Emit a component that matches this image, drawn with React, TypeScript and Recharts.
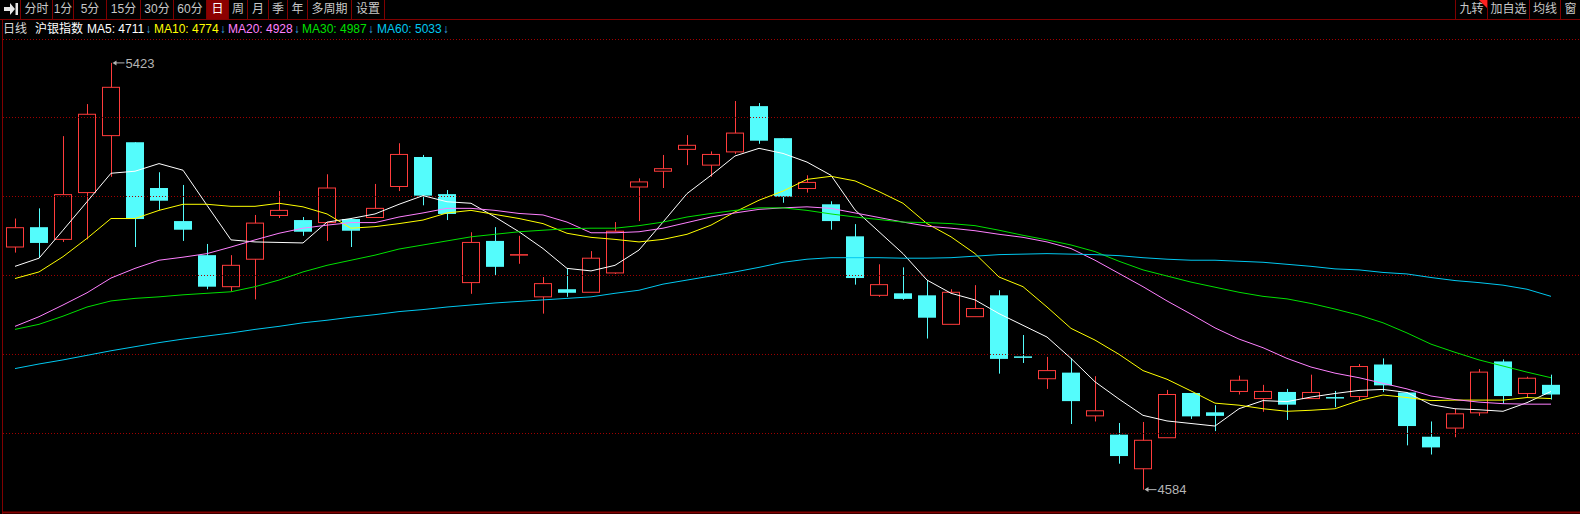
import { ComposedChart, Bar, Line, XAxis, YAxis, ReferenceLine, ReferenceDot } from "recharts";

// 沪银指数 daily candles, oldest first
const opens = [
  5061, 5100, 5076, 5168, 5280, 5267, 5177, 5112, 5045, 4983,
  5037, 5123, 5114, 5109, 5116, 5119, 5180, 5238, 5165, 4991,
  5073, 5045, 4963, 4978, 4972, 5010, 5179, 5210, 5253, 5222,
  5248, 5338, 5275, 5176, 5145, 5082, 4966, 4970, 4966, 4909,
  4924, 4966, 4846, 4802, 4814, 4729, 4692, 4625, 4686, 4774,
  4736, 4777, 4763, 4776, 4763, 4766, 4767, 4830, 4775, 4688,
  4705, 4735, 4836, 4773, 4790,
];
const highs = [
  5117, 5137, 5279, 5342, 5423, 5267, 5208, 5183, 5067, 5045,
  5124, 5171, 5120, 5204, 5117, 5185, 5265, 5242, 5173, 5090,
  5100, 5083, 5002, 5019, 5053, 5110, 5196, 5242, 5281, 5249,
  5348, 5344, 5275, 5202, 5151, 5106, 5027, 5021, 4996, 4978,
  4986, 4976, 4888, 4845, 4842, 4807, 4715, 4717, 4780, 4774,
  4750, 4808, 4790, 4782, 4810, 4778, 4831, 4842, 4775, 4718,
  4743, 4821, 4840, 4806, 4810,
];
const lows = [
  5050, 5039, 5071, 5076, 5199, 5061, 5134, 5073, 4978, 4974,
  4958, 5118, 5083, 5073, 5061, 5119, 5171, 5143, 5114, 4969,
  5006, 5028, 4930, 4963, 4972, 5008, 5112, 5177, 5222, 5199,
  5244, 5264, 5148, 5168, 5095, 4987, 4963, 4957, 4881, 4909,
  4924, 4812, 4833, 4782, 4713, 4718, 4635, 4584, 4686, 4723,
  4699, 4771, 4737, 4721, 4763, 4746, 4759, 4776, 4671, 4653,
  4687, 4729, 4753, 4765, 4761,
];
const closes = [
  5099, 5069, 5164, 5322, 5375, 5116, 5152, 5095, 4983, 5025,
  5108, 5133, 5091, 5177, 5093, 5137, 5243, 5162, 5126, 5070,
  5022, 5046, 4989, 4971, 5039, 5092, 5189, 5215, 5261, 5243,
  5285, 5270, 5160, 5188, 5112, 5000, 4987, 4959, 4922, 4972,
  4940, 4841, 4843, 4818, 4758, 4739, 4650, 4681, 4771, 4728,
  4729, 4799, 4777, 4751, 4775, 4765, 4826, 4789, 4709, 4667,
  4733, 4815, 4768, 4803, 4771,
];

// moving averages as drawn in the picture
const ma5 = [
  5023, 5039, 5094, 5150, 5206, 5210, 5225, 5212, 5143, 5075,
  5071, 5070, 5069, 5110, 5117, 5126, 5145, 5162, 5150, 5147,
  5120, 5091, 5058, 5019, 5014, 5025, 5055, 5110, 5166, 5202,
  5240, 5255, 5245, 5228, 5202, 5134, 5091, 5048, 4996, 4970,
  4957, 4930, 4907, 4884, 4842, 4796, 4762, 4730, 4719, 4714,
  4709, 4743, 4759, 4757, 4766, 4773, 4779, 4781, 4775, 4751,
  4743, 4741, 4738, 4755, 4777,
];
const ma10 = [
  4999, 5012, 5042, 5078, 5117, 5117, 5133, 5145, 5145, 5141,
  5141, 5147, 5140, 5126, 5098, 5101, 5107, 5114, 5128, 5133,
  5125, 5117, 5107, 5088, 5080, 5076, 5071, 5076, 5086, 5104,
  5130, 5153, 5171, 5194, 5200, 5191, 5170, 5147, 5107, 5081,
  5048, 5002, 4983, 4943, 4901, 4878, 4850, 4818, 4801, 4778,
  4754, 4750, 4743, 4738, 4740, 4743, 4759, 4770, 4765, 4759,
  4760, 4760, 4760, 4765, 4763,
];
const ma20 = [
  4905, 4924, 4947, 4971, 5000, 5019, 5035, 5041, 5048, 5061,
  5075, 5088, 5098, 5104, 5109, 5109, 5120, 5128, 5137, 5137,
  5133, 5127, 5124, 5110, 5089, 5089, 5091, 5098, 5109, 5120,
  5128, 5135, 5138, 5140, 5137, 5128, 5119, 5110, 5102, 5098,
  5093, 5086, 5080, 5071, 5058, 5035, 5009, 4983, 4955, 4929,
  4902, 4880, 4863, 4842, 4825, 4813, 4804, 4793, 4782, 4768,
  4761, 4756, 4753, 4752, 4752,
];
const ma30 = [
  4899, 4909, 4925, 4943, 4955, 4960, 4963, 4967, 4970, 4973,
  4983, 4996, 5012, 5025, 5035, 5045, 5057, 5065, 5073, 5081,
  5086, 5091, 5094, 5097, 5098, 5098, 5103, 5110, 5120, 5127,
  5133, 5138, 5138, 5133, 5126, 5120, 5115, 5110, 5109, 5107,
  5103, 5094, 5084, 5075, 5065, 5052, 5033, 5016, 5004, 4992,
  4982, 4972, 4964, 4959, 4950, 4939, 4927, 4912, 4892, 4870,
  4854, 4839, 4827, 4815, 4804,
];
const ma60 = [
  4822, 4831, 4839, 4848, 4857, 4865, 4873, 4880, 4886, 4892,
  4899, 4905, 4912, 4917, 4923, 4928, 4934, 4938, 4943, 4947,
  4951, 4954, 4957, 4960, 4963, 4970, 4976, 4988, 4996, 5004,
  5012, 5021, 5031, 5037, 5040, 5040, 5040, 5039, 5039, 5040,
  5043, 5046, 5047, 5048, 5047, 5046, 5044, 5040, 5037, 5035,
  5035, 5033, 5031, 5027, 5023, 5018, 5016, 5011, 5008, 5001,
  4995, 4991, 4986, 4978, 4964,
];

const gridPrices = [5469, 5315.6, 5160.3, 5005, 4849.7, 4694.3];
const priceDomain: [number, number] = [4539, 5469];

const periodTabs = ["分时", "1分", "5分", "15分", "30分", "60分", "日", "周", "月", "季", "年", "多周期", "设置"];
const activeTab = "日";
const toolTabs = ["九转", "加自选", "均线", "窗"];
const cycleLabel = "日线";
const instrument = "沪银指数";
const maLegend = [
  { name: "MA5", value: 4711, key: "ma5", color: "#ffffff" },
  { name: "MA10", value: 4774, key: "ma10", color: "#ffff00" },
  { name: "MA20", value: 4928, key: "ma20", color: "#ff80ff" },
  { name: "MA30", value: 4987, key: "ma30", color: "#00e000" },
  { name: "MA60", value: 5033, key: "ma60", color: "#00c8f0" },
];

// layout of the toolbar buttons (px)
const periodTabWidths = [32, 21, 33, 34, 33, 33, 22, 19, 21, 19, 20, 44, 33];
const toolTabLefts = [1455, 1487, 1529, 1560];
const toolTabWidths = [32, 42, 31, 20];
const legendLefts = [87, 154, 228, 302, 377];

const UP = "#ff3c3c";
const DOWN = "#54fcfc";
const FRAME = "#800000";
const FONT = "'Liberation Sans', 'Noto Sans CJK SC', sans-serif";

const data = opens.map((open, i) => ({
  i,
  open,
  high: highs[i],
  low: lows[i],
  close: closes[i],
  ma5: ma5[i],
  ma10: ma10[i],
  ma20: ma20[i],
  ma30: ma30[i],
  ma60: ma60[i],
}));

const maxHigh = Math.max(...highs);
const minLow = Math.min(...lows);

function Candle(props: any) {
  const { x, y, width, height, payload } = props;
  if (!payload) return null;
  const top = Math.min(y, y + height);
  const bottom = Math.max(y, y + height);
  const { open, close, high, low } = payload;
  const k = (bottom - top) / (high - low || 1);
  const yOf = (v: number) => top + (high - v) * k;
  const cx = Math.floor(x + width / 2) + 0.5;
  const bodyTop = yOf(Math.max(open, close));
  const bodyBot = yOf(Math.min(open, close));
  if (close >= open) {
    return (
      <g>
        <line x1={cx} x2={cx} y1={top} y2={bodyTop} stroke={UP} />
        <line x1={cx} x2={cx} y1={bodyBot} y2={bottom} stroke={UP} />
        <rect
          x={Math.round(x) + 0.5}
          y={bodyTop}
          width={Math.round(width) - 1}
          height={Math.max(bodyBot - bodyTop, 0)}
          fill="none"
          stroke={UP}
        />
      </g>
    );
  }
  return (
    <g>
      <line x1={cx} x2={cx} y1={top} y2={bottom} stroke={DOWN} />
      <rect x={Math.round(x)} y={bodyTop} width={Math.round(width)} height={Math.max(bodyBot - bodyTop, 1.5)} fill={DOWN} />
    </g>
  );
}

function PriceTag(props: any) {
  const { cx, cy, text } = props;
  const x0 = Math.floor(cx) + 1.5;
  const c = "#b4b4b4";
  return (
    <g>
      <path d={`M${x0} ${cy} l4 -2.5 v5 z`} fill={c} />
      <line x1={x0 + 3} x2={x0 + 12} y1={cy} y2={cy} stroke={c} />
      <text x={x0 + 13} y={cy} dy="0.36em" fill={c} fontSize={13} fontFamily={FONT}>
        {text}
      </text>
    </g>
  );
}

function Toolbar() {
  let left = 21;
  const tabs = periodTabs.map((t, idx) => {
    const w = periodTabWidths[idx];
    const active = t === activeTab;
    const el = (
      <div
        key={t}
        style={{
          position: "absolute",
          left,
          top: 0,
          width: w,
          height: 19,
          boxSizing: "border-box",
          borderRight: `1px solid ${FRAME}`,
          background: active ? "#8c0000" : "transparent",
          color: active ? "#ffffff" : "#c8c8c8",
          fontSize: 12,
          lineHeight: "19px",
          textAlign: "center",
        }}
      >
        {t}
      </div>
    );
    left += w;
    return el;
  });
  return (
    <div
      style={{
        position: "absolute",
        left: 0,
        top: 0,
        width: 1580,
        height: 20,
        boxSizing: "border-box",
        borderBottom: `1px solid ${FRAME}`,
        fontFamily: FONT,
      }}
    >
      <div style={{ position: "absolute", left: 0, top: 0, width: 21, height: 19, boxSizing: "border-box", borderRight: `1px solid ${FRAME}` }}>
        <svg width={21} height={19}>
          <path d="M4 7 H10 V3 L15 9 L10 15 V11 H4 Z" fill="#e6e6e6" />
          <rect x={15.5} y={3} width={2.5} height={12} fill="#e6e6e6" />
        </svg>
      </div>
      {tabs}
      {toolTabs.map((t, idx) => (
        <div
          key={t}
          style={{
            position: "absolute",
            left: toolTabLefts[idx],
            top: 0,
            width: toolTabWidths[idx],
            height: 19,
            boxSizing: "border-box",
            borderLeft: `1px solid ${FRAME}`,
            color: "#c8c8c8",
            fontSize: 12,
            lineHeight: "19px",
            textAlign: "center",
          }}
        >
          {t}
        </div>
      ))}
      <svg style={{ position: "absolute", left: 1479, top: 0 }} width={8} height={8}>
        <path d="M0 0 H8 V8 Z" fill="#ff2020" />
      </svg>
    </div>
  );
}

function Legend() {
  const base = { position: "absolute" as const, top: 21, fontSize: 12, lineHeight: "17px", whiteSpace: "nowrap" as const };
  return (
    <div style={{ fontFamily: FONT }}>
      <div style={{ ...base, left: 3, color: "#d8d8d8" }}>{cycleLabel}</div>
      <div style={{ ...base, left: 35, color: "#ffffff" }}>{instrument}</div>
      {maLegend.map((m, idx) => (
        <div key={m.name} style={{ ...base, left: legendLefts[idx], color: m.color }}>
          {`${m.name}: ${m.value}`}
          <span style={{ color: "#3aa8e0", marginLeft: 1 }}>↓</span>
        </div>
      ))}
    </div>
  );
}

export default function App() {
  return (
    <div style={{ position: "absolute", left: 0, top: 0, width: 1580, height: 514, background: "#000000", overflow: "hidden" }}>
      <ComposedChart
        width={1580}
        height={514}
        data={data}
        margin={{ top: 39.5, right: 0, bottom: 1.5, left: 3 }}
        style={{ position: "absolute", left: 0, top: 0 }}
      >
        <XAxis dataKey="i" type="category" hide padding={{ left: 0, right: 17 }} />
        <YAxis type="number" hide domain={priceDomain} allowDataOverflow />
        {gridPrices.map((p) => (
          <ReferenceLine key={p} y={p} stroke="#a00000" strokeDasharray="1 2" ifOverflow="visible" />
        ))}
        <ReferenceLine y={priceDomain[0]} stroke={FRAME} strokeWidth={2} ifOverflow="visible" />
        <Bar dataKey={(d: any) => [d.low, d.high]} barSize={18} shape={<Candle />} isAnimationActive={false} />
        {maLegend.map((m) => (
          <Line
            key={m.key}
            type="linear"
            dataKey={m.key}
            stroke={m.color}
            strokeWidth={1}
            dot={false}
            activeDot={false}
            isAnimationActive={false}
          />
        ))}
        <ReferenceDot
          x={highs.indexOf(maxHigh)}
          y={maxHigh}
          r={0}
          ifOverflow="visible"
          shape={(p: any) => <PriceTag {...p} text={String(maxHigh)} />}
        />
        <ReferenceDot
          x={lows.indexOf(minLow)}
          y={minLow}
          r={0}
          ifOverflow="visible"
          shape={(p: any) => <PriceTag {...p} text={String(minLow)} />}
        />
      </ComposedChart>
      <div style={{ position: "absolute", left: 2, top: 19, width: 1, height: 495, background: FRAME }} />
      <Toolbar />
      <Legend />
    </div>
  );
}
